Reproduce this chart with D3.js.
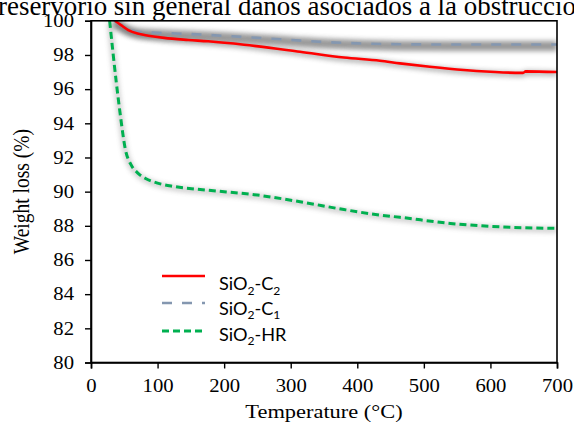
<!DOCTYPE html>
<html>
<head>
<meta charset="utf-8">
<script src="https://cdn.jsdelivr.net/npm/d3@7"></script>
<style>
  html, body { margin: 0; padding: 0; background: #fff; }
  svg { display: block; }
</style>
</head>
<body>
<div id="chart"></div>
<script>
// ---- Data ----
const headerText = "reservorio sin general daños asociados a la obstrucció";
const xTicks = [0, 100, 200, 300, 400, 500, 600, 700];
const yTicks = [80, 82, 84, 86, 88, 90, 92, 94, 96, 98, 100];

const c2Temp = [36, 45, 56, 70, 86, 110, 146, 176, 230, 314, 380, 434, 464, 509, 560, 600, 646, 649, 653, 700];
const c2Val  = [100, 99.75, 99.46, 99.25, 99.13, 99.0, 98.88, 98.8, 98.6, 98.19, 97.85, 97.66, 97.51, 97.31, 97.12, 97.02, 96.95, 96.95, 97.04, 97.0];

const c1Temp = [35, 45, 55, 71, 100, 146, 200, 260, 314, 359, 400, 464, 550, 700];
const c1Val  = [100, 99.72, 99.52, 99.36, 99.3, 99.23, 99.12, 98.98, 98.84, 98.74, 98.68, 98.63, 98.61, 98.61];

const hrTemp = [28, 38, 44, 51.5, 60.5, 70, 80.6, 100, 125, 171, 250, 314, 380, 434, 464, 540, 614, 700];
const hrVal  = [100, 96.4, 94.5, 92.5, 91.55, 91.1, 90.8, 90.5, 90.3, 90.1, 89.8, 89.41, 88.95, 88.63, 88.5, 88.14, 87.94, 87.85];

// legend labels: [base, subscript, rest, subscript]
const seriesLabels = [["SiO", "2", "-C", "2"], ["SiO", "2", "-C", "1"], ["SiO", "2", "-HR", ""]];

// ---- Layout ----
const W = 574, H = 423;
const mLeft = 91, mRight = 557, mTop = 20.8, mBottom = 362.5;
const SX = 1.15; // horizontal stretch of the original figure's text
const serif = "'Liberation Serif', 'Times New Roman', Times, serif";

const svg = d3.select("#chart").append("svg").attr("width", W).attr("height", H);
const defs = svg.append("defs");
defs.append("filter").attr("id", "blur").attr("x", "-10%").attr("y", "-50%").attr("width", "120%").attr("height", "200%")
  .append("feGaussianBlur").attr("stdDeviation", 2.4);
defs.append("clipPath").attr("id", "clip").append("rect")
  .attr("x", mLeft).attr("y", mTop).attr("width", mRight - mLeft).attr("height", mBottom - mTop);

const x = d3.scaleLinear().domain([0, 700]).range([mLeft, mRight]);
const y = d3.scaleLinear().domain([80, 100]).range([mBottom, mTop]);

// header text (cropped paragraph above the figure)
const hdr = svg.append("text").attr("x", -2).attr("y", 14.5)
  .style("font-family", serif).style("font-size", "20px").attr("fill", "#000").text(headerText);
const hw = hdr.node().getComputedTextLength();
hdr.style("font-size", (20 * 578 / hw).toFixed(2) + "px");

const series = [
  { label: seriesLabels[0], t: c2Temp, v: c2Val, color: "#ff0000", width: 2.6, dash: null, shadow: 0.45, sw: 5 },
  { label: seriesLabels[1], t: c1Temp, v: c1Val, color: "#8497b0", width: 2.6, dash: "10,10", shadow: 0.6, sw: 10 },
  { label: seriesLabels[2], t: hrTemp, v: hrVal, color: "#00b050", width: 3, dash: "7,4", shadow: 0.3, sw: 5 }
];

const line = d3.line().x(d => x(d[0])).y(d => y(d[1])).curve(d3.curveMonotoneX);

const plot = svg.append("g").attr("clip-path", "url(#clip)");
series.forEach(s => {
  const pts = s.t.map((t, i) => [t, s.v[i]]);
  plot.append("path").attr("d", line(pts))
    .attr("fill", "none").attr("stroke", "#555").attr("stroke-width", s.sw)
    .attr("opacity", s.shadow).attr("filter", "url(#blur)")
    .attr("transform", "translate(0,1.5)");
});
[series[1], series[0], series[2]].forEach(s => {
  const pts = s.t.map((t, i) => [t, s.v[i]]);
  plot.append("path").attr("d", line(pts))
    .attr("fill", "none").attr("stroke", s.color).attr("stroke-width", s.width)
    .attr("stroke-dasharray", s.dash);
});

// frame
svg.append("rect").attr("x", mLeft).attr("y", mTop).attr("width", mRight - mLeft).attr("height", mBottom - mTop)
  .attr("fill", "none").attr("stroke", "#000").attr("stroke-width", 1.6);

const xAxis = svg.append("g").attr("transform", `translate(0,${mBottom})`)
  .call(d3.axisBottom(x).tickValues(xTicks).tickSize(6).tickPadding(11).tickFormat(d3.format("d")));
const yAxis = svg.append("g").attr("transform", `translate(${mLeft},0)`)
  .call(d3.axisLeft(y).tickValues(yTicks).tickSize(6).tickPadding(11).tickFormat(d3.format("d")));
[xAxis, yAxis].forEach(a => {
  a.attr("font-family", null).attr("font-size", null);
  a.select(".domain").attr("stroke-width", 1.6).attr("stroke", "#000");
  a.selectAll(".tick line").attr("stroke-width", 1.4).attr("stroke", "#000");
  a.selectAll(".tick text").style("font-family", serif).style("font-size", "18px").attr("fill", "#000");
});
xAxis.selectAll(".tick text").attr("transform", `scale(${SX},1)`);
yAxis.selectAll(".tick text").each(function () {
  const t = d3.select(this);
  const x0 = +t.attr("x");
  t.attr("x", 0).attr("transform", `translate(${x0},0) scale(${SX},1)`);
});

svg.append("text").attr("transform", `translate(${(mLeft + mRight) / 2},418) scale(${SX},1)`)
  .attr("text-anchor", "middle").style("font-family", serif).style("font-size", "19.5px")
  .text("Temperature (\u00B0C)");
svg.append("text").attr("transform", `translate(29,${(mTop + mBottom) / 2}) rotate(-90) scale(1,${SX})`)
  .attr("text-anchor", "middle").style("font-family", serif).style("font-size", "19.5px")
  .text("Weight loss (%)");

// legend
const legFont = "Lato, 'Open Sans', sans-serif";
const legRows = [
  { s: series[0], ly: 276, ty: 290 },
  { s: series[1], ly: 303, ty: 314.5 },
  { s: series[2], ly: 331, ty: 340.5 }
];
const leg = svg.append("g");
legRows.forEach(r => {
  leg.append("line").attr("x1", 162).attr("x2", 205).attr("y1", r.ly).attr("y2", r.ly)
    .attr("stroke", r.s.color).attr("stroke-width", r.s.width).attr("stroke-dasharray", r.s.dash);
  const t = leg.append("text").attr("transform", `translate(219,${r.ty}) scale(1.1,1)`)
    .style("font-family", legFont).style("font-size", "16.5px").attr("fill", "#000");
  const [a, b, c, d] = r.s.label;
  t.append("tspan").text(a);
  t.append("tspan").attr("dy", 4.5).style("font-size", "11px").text(b);
  t.append("tspan").attr("dy", -4.5).text(c);
  if (d) t.append("tspan").attr("dy", 4.5).style("font-size", "11px").text(d);
});
</script>
</body>
</html>
